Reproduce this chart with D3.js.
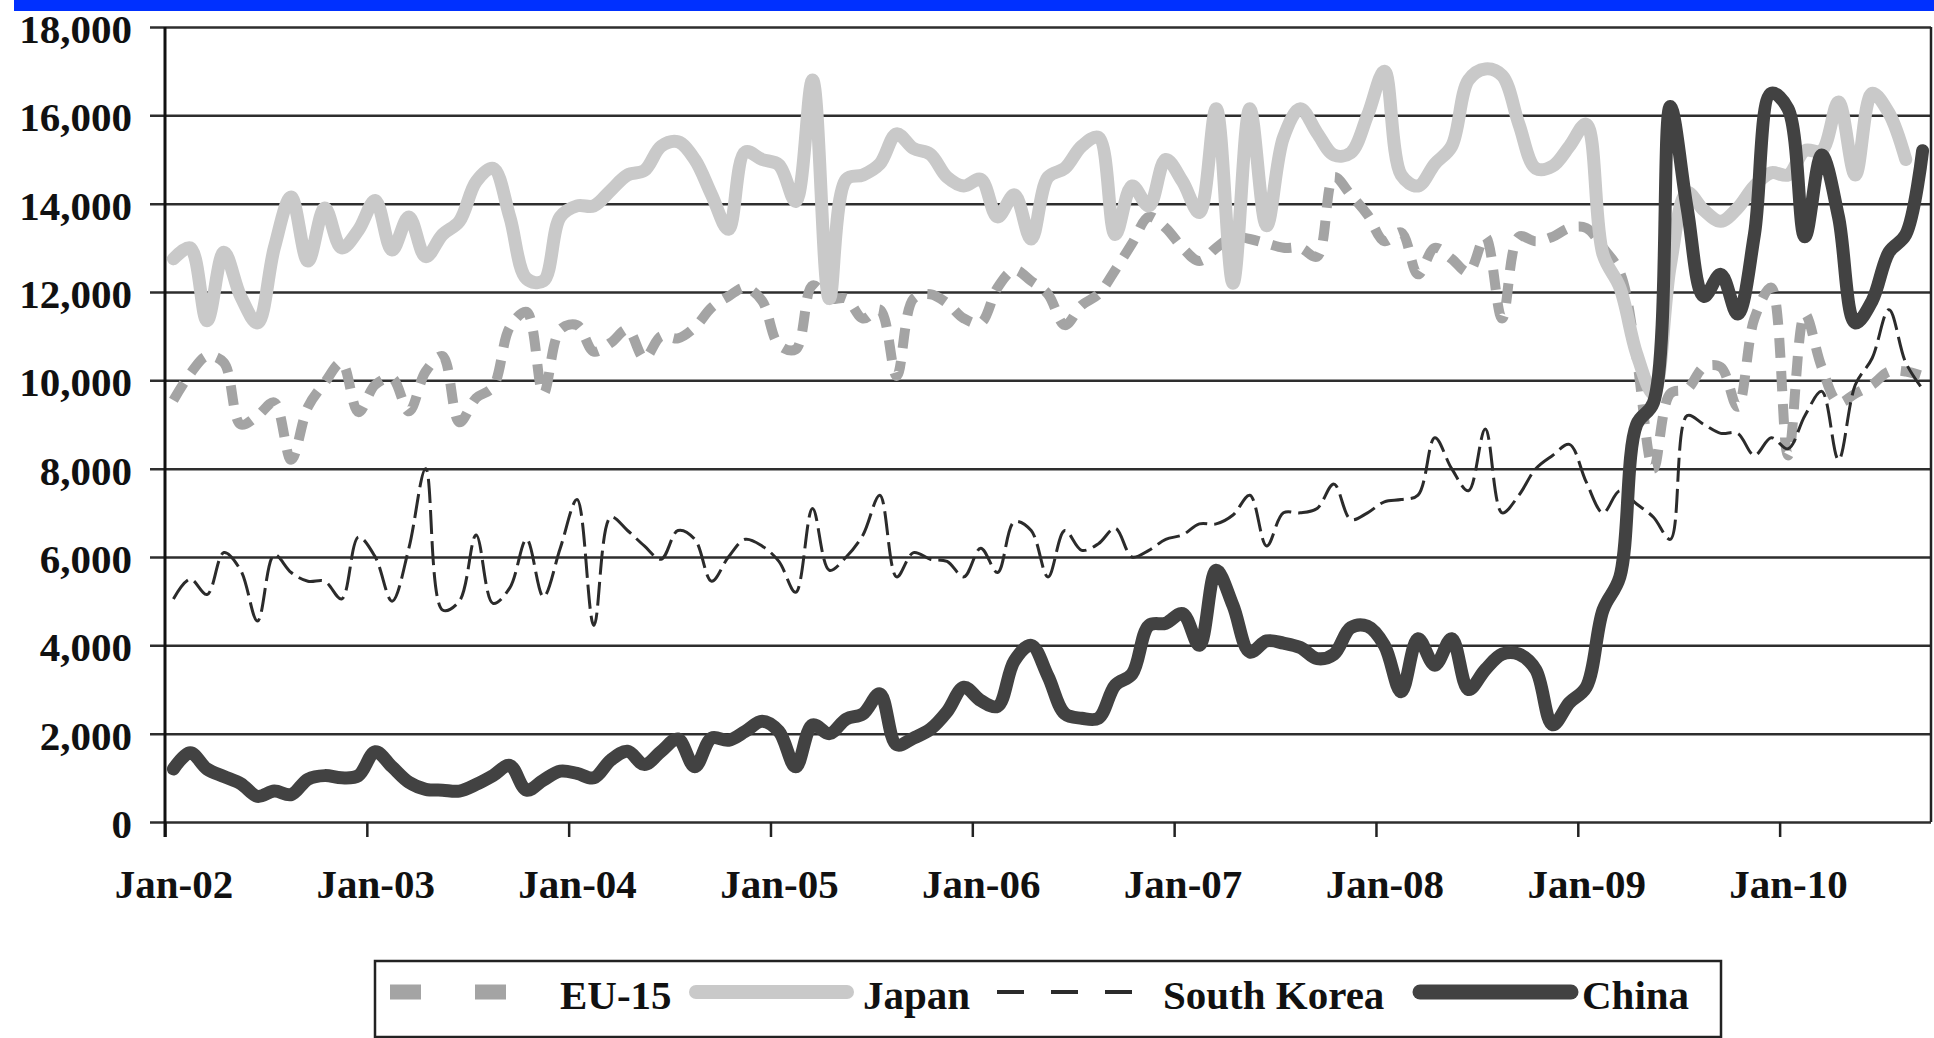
<!DOCTYPE html>
<html>
<head>
<meta charset="utf-8">
<script src="https://cdn.jsdelivr.net/npm/d3@7"></script>
<style>
  body { margin: 0; background: #fff; }
  svg { display: block; }
  text { font-family: "Liberation Serif", "Times New Roman", serif; font-weight: bold; fill: #111; }
</style>
</head>
<body>
<svg id="chart"></svg>
<script>
// monthly imports, Jan 2002 .. Sep 2010 (one value per month)
const tickLabels = ["Jan-02", "Jan-03", "Jan-04", "Jan-05", "Jan-06", "Jan-07", "Jan-08", "Jan-09", "Jan-10"];
const yTicks = [0, 2000, 4000, 6000, 8000, 10000, 12000, 14000, 16000, 18000];

const eu15 = [
  9550, 10150, 10550, 10400, 9000, 9200, 9500, 8200, 9400, 9950,
  10400, 9280, 9900, 10050, 9300, 10200, 10550, 9050, 9600, 9850,
  11200, 11550, 9700, 11150, 11250, 10650, 10850, 11150, 10500, 11000,
  10950, 11200, 11650, 11900, 12100, 11800, 10800, 10700, 12150, 11850,
  11850, 11400, 11600, 10100, 11850, 11950, 11750, 11400, 11300, 12100,
  12500, 12250, 11950, 11250, 11700, 11950, 12500, 13100, 13700, 13450,
  13000, 12700, 13000, 13250, 13200, 13100, 13000, 13000, 12800, 14600,
  14200, 13750, 13150, 13350, 12400, 13000, 12750, 12450, 13250, 11400,
  13250, 13150, 13250, 13450, 13450, 13000, 12450, 10500, 8000, 9700,
  9800, 10300, 10300, 9400, 11400, 12100, 8300, 11500, 10300, 9500,
  9700, 9900, 10200, 10200, 10100
];

const japan = [
  12750, 13000, 11350, 12900, 11900, 11300, 13000, 14150, 12700, 13900,
  13000, 13400, 14070, 12950, 13700, 12800, 13300, 13600, 14500, 14800,
  13700, 12300, 12250, 13700, 13950, 13950, 14300, 14650, 14750, 15300,
  15400, 15000, 14200, 13420, 15170, 15000, 14880, 14050, 16800, 11850,
  14550, 14650, 14900, 15580, 15250, 15120, 14600, 14400, 14550, 13700,
  14200, 13200, 14600, 14800, 15300, 15500, 13300, 14400, 13950, 15000,
  14500, 13800, 16150, 12200, 16150, 13500, 15500, 16150, 15600, 15100,
  15150, 16000, 17000, 14650, 14400, 14900, 15300, 16800, 17050, 16900,
  15800, 14800, 14850, 15300, 15800, 12850, 12100, 10600, 9700, 12600,
  14250, 13850, 13600, 13900, 14400, 14700, 14650, 15200, 15200, 16300,
  14650, 16500, 16050, 15000, null
];

const southKorea = [
  5050, 5500, 5150, 6100, 5700, 4550, 6050, 5650, 5450, 5450,
  5050, 6450, 6000, 5000, 6200, 8000, 4800, 5000, 6500, 4950,
  5300, 6400, 5100, 6200, 7300, 4450, 6900, 6600, 6250, 5950,
  6600, 6400, 5450, 6000, 6400, 6250, 5900, 5200, 7100, 5700,
  6000, 6500, 7400, 5550, 6100, 5950, 5900, 5550, 6200, 5650,
  6800, 6600, 5550, 6600, 6150, 6300, 6650, 6000, 6150, 6400,
  6500, 6750, 6750, 6950, 7400, 6250, 7000, 7000, 7100, 7650,
  6850, 7000, 7250, 7300, 7400, 8700, 8000, 7500, 8900, 7000,
  7400, 8000, 8300, 8550, 7700, 7000, 7500, 7200, 6900, 6400,
  9200, 9000, 8800, 8800, 8300, 8700, 8450, 9200, 9750, 8200,
  9900, 10500, 11600, 10400, 9800
];

const china = [
  1200, 1570, 1200, 1030, 870, 580, 700, 620, 970, 1050,
  1000, 1050, 1590, 1250, 900, 740, 720, 700, 850, 1050,
  1280, 720, 950, 1150, 1100, 1000, 1400, 1600, 1300, 1600,
  1880, 1250, 1900, 1850, 2050, 2280, 2050, 1250, 2200, 2000,
  2330, 2450, 2900, 1750, 1900, 2100, 2500, 3050, 2750, 2620,
  3650, 4000, 3300, 2450, 2350, 2350, 3100, 3350, 4450, 4500,
  4720, 4000, 5700, 4900, 3850, 4100, 4050, 3950, 3700, 3800,
  4400, 4430, 4000, 2950, 4150, 3550, 4150, 3000, 3450, 3800,
  3800, 3450, 2200, 2700, 3050, 4800, 5550, 9000, 9500, 16200,
  13900, 11900, 12400, 11500, 13300, 16500, 16150, 13250, 15100, 13700,
  11300, 11800, 12900, 13300, 15200
];

const months = d3.timeMonth.range(new Date(2002, 0, 1), new Date(2002, 0 + china.length, 1));

class MonthlyChart {

    margin = {top: 27, right: 3, bottom: 216, left: 165}

    constructor(svg, series, width = 1934, height = 1038) {
        this.svg = svg;
        this.series = series;
        this.width = width;
        this.height = height;
    }

    initialize() {
        this.svg = d3.select(this.svg)
            .attr("width", this.width)
            .attr("height", this.height);

        const plotW = this.width - this.margin.left - this.margin.right;
        const plotH = this.height - this.margin.top - this.margin.bottom;

        // blue band across the top
        this.svg.append("rect")
            .attr("x", 14).attr("y", 0)
            .attr("width", this.width - 14).attr("height", 11)
            .attr("fill", "#0030ff");

        this.container = this.svg.append("g")
            .attr("transform", `translate(${this.margin.left}, ${this.margin.top})`);

        this.xScale = d3.scaleLinear()
            .domain([0, months.length])
            .range([0, plotW]);
        this.yScale = d3.scaleLinear()
            .domain([0, 18000])
            .range([plotH, 0]);

        const band = this.xScale(1) - this.xScale(0);

        // y axis + gridlines
        const yAxis = this.container.append("g")
            .call(d3.axisLeft(this.yScale).tickValues(yTicks).tickFormat(d3.format(",")));
        yAxis.select(".domain").remove();
        yAxis.selectAll(".tick line")
            .attr("x1", -15).attr("x2", plotW)
            .attr("stroke", "#2e2e2e").attr("stroke-width", 2.5);
        yAxis.selectAll(".tick text")
            .attr("x", -33).attr("dy", "0.38em")
            .attr("font-size", 41)
            .style("font-family", "'Liberation Serif', serif")
            .style("font-weight", "bold")
            .attr("fill", "#111");

        // x axis, ticks on category boundaries, labels centred on the month
        const xAxis = this.container.append("g")
            .attr("transform", `translate(0, ${plotH})`)
            .call(d3.axisBottom(this.xScale)
                .tickValues(tickLabels.map((d, i) => i * 12))
                .tickFormat((d, i) => tickLabels[i])
                .tickSize(15));
        xAxis.select(".domain").remove();
        xAxis.selectAll(".tick line").attr("stroke", "#222").attr("stroke-width", 2.5);
        xAxis.selectAll(".tick text")
            .attr("x", band / 2).attr("y", 76).attr("dy", 0)
            .attr("font-size", 41)
            .style("font-family", "'Liberation Serif', serif")
            .style("font-weight", "bold")
            .attr("fill", "#111");

        // frame
        this.container.append("line")
            .attr("x1", 0).attr("x2", 0).attr("y1", 0).attr("y2", plotH + 15)
            .attr("stroke", "#111").attr("stroke-width", 3);
        this.container.append("line")
            .attr("x1", plotW).attr("x2", plotW).attr("y1", 0).attr("y2", plotH)
            .attr("stroke", "#222").attr("stroke-width", 2.5);

        // smoothed lines, like the spreadsheet original
        this.lines = this.container.append("g");
        const line = d3.line()
            .defined(d => d != null)
            .curve(d3.curveCatmullRom.alpha(0.5))
            .x((d, i) => this.xScale(i + 0.5))
            .y(d => this.yScale(d));

        this.lines.selectAll("path")
            .data(this.series)
            .join("path")
            .attr("d", s => line(s.values))
            .attr("fill", "none")
            .attr("stroke", s => s.color)
            .attr("stroke-width", s => s.width)
            .attr("stroke-dasharray", s => s.dash)
            .attr("stroke-linejoin", "round")
            .attr("stroke-linecap", s => s.dash ? "butt" : "round");

        this.drawLegend();
    }

    drawLegend() {
        const legend = this.svg.append("g");
        legend.append("rect")
            .attr("x", 375).attr("y", 961)
            .attr("width", 1346).attr("height", 76)
            .attr("fill", "#fff")
            .attr("stroke", "#222").attr("stroke-width", 2.5);

        const items = [
            {x1: 390, x2: 506, tx: 560, cap: "butt", dash: "31,54", w: 15},
            {x1: 696, x2: 847, tx: 863, cap: "round", dash: null, w: 14},
            {x1: 997, x2: 1140, tx: 1163, cap: "butt", dash: "27,27", w: 4},
            {x1: 1420, x2: 1571, tx: 1582, cap: "round", dash: null, w: 15}
        ];
        items.forEach((it, i) => {
            const s = this.series[i];
            legend.append("line")
                .attr("x1", it.x1).attr("x2", it.x2)
                .attr("y1", 992).attr("y2", 992)
                .attr("stroke", s.color)
                .attr("stroke-width", it.w)
                .attr("stroke-dasharray", it.dash)
                .attr("stroke-linecap", it.cap);
            legend.append("text")
                .attr("x", it.tx).attr("y", 1009)
                .attr("font-size", 41)
                .text(s.name);
        });
    }
}

const chart = new MonthlyChart(document.getElementById("chart"), [
    {name: "EU-15", values: eu15, color: "#a4a4a4", width: 10, dash: "20,13"},
    {name: "Japan", values: japan, color: "#c9c9c9", width: 13, dash: null},
    {name: "South Korea", values: southKorea, color: "#2b2b2b", width: 3, dash: "24,7"},
    {name: "China", values: china, color: "#424242", width: 13, dash: null}
]);
chart.initialize();
</script>
</body>
</html>
